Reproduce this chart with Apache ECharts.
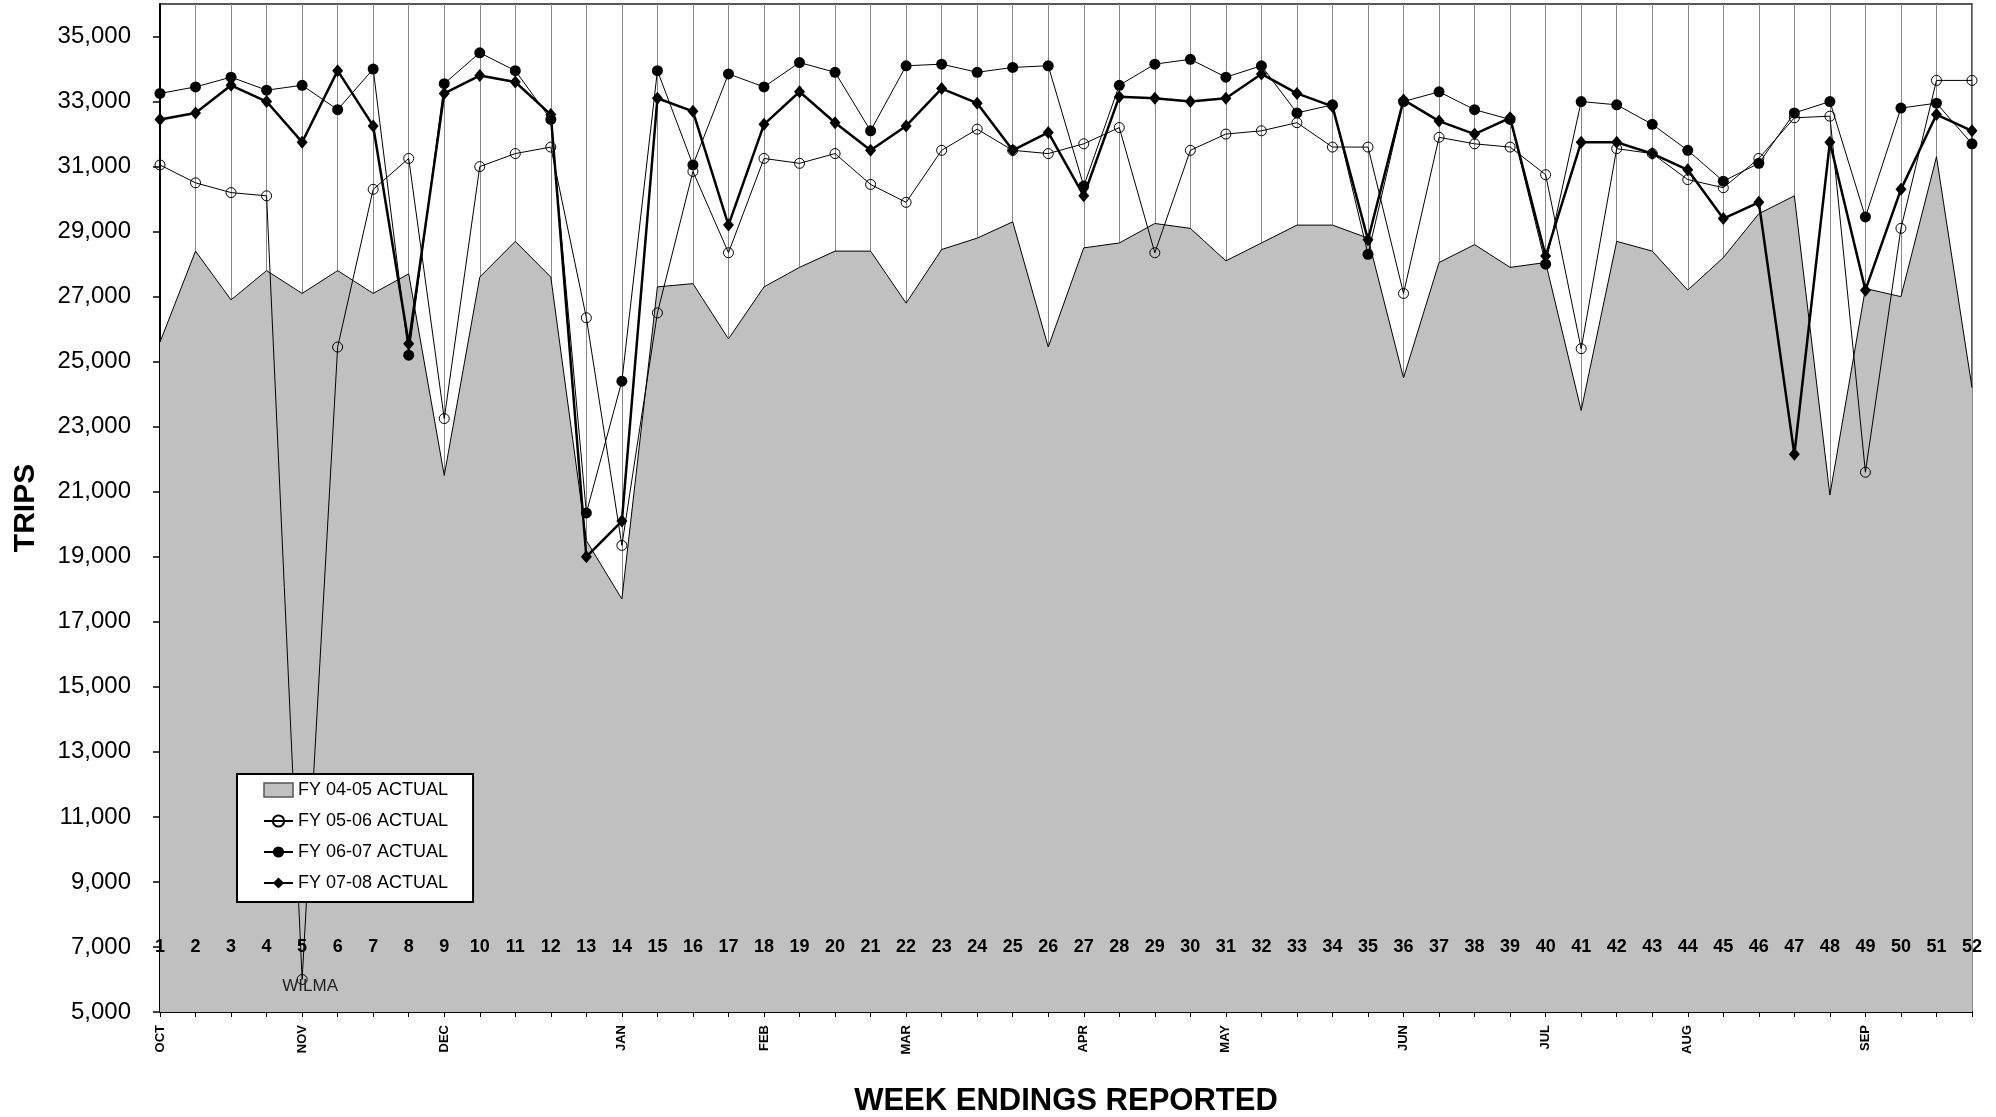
<!DOCTYPE html>
<html>
<head>
<meta charset="utf-8">
<style>
  html, body { margin: 0; padding: 0; background: #fff; }
  #chart { width: 1996px; height: 1117px; }
</style>
<script src="https://cdn.jsdelivr.net/npm/echarts@6/dist/echarts.min.js"></script>
</head>
<body>
<div id="chart"></div>
<script>
const weeks = ['1','2','3','4','5','6','7','8','9','10','11','12','13','14','15','16','17','18','19','20','21','22','23','24','25','26','27','28','29','30','31','32','33','34','35','36','37','38','39','40','41','42','43','44','45','46','47','48','49','50','51','52'];
const monthNames = ['OCT','NOV','DEC','JAN','FEB','MAR','APR','MAY','JUN','JUL','AUG','SEP'];
const monthWeeks = ['1','5','9','14','18','22','27','31','36','40','44','49'];
const yTicks = [5000,7000,9000,11000,13000,15000,17000,19000,21000,23000,25000,27000,29000,31000,33000,35000];

const fy0405 = [25600,28400,26900,27800,27100,27800,27100,27700,21500,27600,28700,27600,19500,17700,27300,27400,25700,27300,27900,28400,28400,26800,28450,28800,29300,25450,28500,28650,29250,29100,28100,28650,29200,29200,28800,24500,28050,28600,27900,28050,23500,28700,28400,27200,28200,29550,30100,20900,27250,27000,31300,24200];
const fy0506 = [31050,30500,30200,30100,6000,25450,30300,31250,23250,31000,31400,31600,26350,19350,26500,30850,28350,31250,31100,31400,30450,29900,31500,32150,31500,31400,31700,32200,28350,31500,32000,32100,32350,31600,31600,27100,31900,31700,31600,30750,25400,31550,31400,30600,30350,31250,32500,32550,21600,29100,33650,33650];
const fy0607 = [33250,33450,33750,33350,33500,32750,34000,25200,33550,34500,33950,32450,20350,24400,33950,31050,33850,33450,34200,33900,32100,34100,34150,33900,34050,34100,30400,33500,34150,34300,33750,34100,32650,32900,28300,33000,33300,32750,32450,28000,33000,32900,32300,31500,30550,31100,32650,33000,29450,32800,32950,31700];
const fy0708 = [32450,32650,33500,33000,31750,33950,32250,25550,33250,33800,33600,32600,19000,20100,33100,32700,29200,32300,33300,32350,31500,32250,33400,32950,31500,32050,30100,33150,33100,33000,33100,33850,33250,32850,28750,33050,32400,32000,32500,28250,31750,31750,31400,30900,29400,29900,22150,31750,27200,30300,32600,32100];

const seriesNames = ['FY 04-05 ACTUAL','FY 05-06 ACTUAL','FY 06-07 ACTUAL','FY 07-08 ACTUAL'];
const annotation = { week: '5', text: 'WILMA' };

const FONT = "'Liberation Sans', Arial, sans-serif";

const fy0506Data = fy0506.map((v, i) => weeks[i] === annotation.week ? {
  value: v,
  label: { show: true, formatter: annotation.text, position: 'inside', offset: [8, 7], fontSize: 17, color: '#222', fontFamily: FONT }
} : v);

const chart = echarts.init(document.getElementById('chart'), null, { renderer: 'canvas' });
chart.setOption({
  animation: false,
  backgroundColor: '#fff',
  textStyle: { fontFamily: FONT, color: '#000' },
  grid: {
    left: 160, right: 24, top: 4, bottom: 105,
    show: true, borderColor: '#222', borderWidth: 1.5, backgroundColor: 'transparent',
    containLabel: false, outerBoundsMode: 'none'
  },
  legend: {
    orient: 'vertical',
    left: 237, top: 774,
    padding: [7, 25, 10, 26],
    itemWidth: 29, itemHeight: 14, itemGap: 13,
    backgroundColor: '#fff', borderColor: '#000', borderWidth: 2,
    textStyle: { fontSize: 18, color: '#000', fontFamily: FONT },
    data: [
      { name: seriesNames[0], icon: 'rect', itemStyle: { color: '#c0c0c0', borderColor: '#555', borderWidth: 1.5 } },
      { name: seriesNames[1] },
      { name: seriesNames[2] },
      { name: seriesNames[3] }
    ]
  },
  xAxis: [
    {
      type: 'category', data: weeks, boundaryGap: false,
      name: 'WEEK ENDINGS REPORTED', nameLocation: 'middle', nameGap: 74,
      nameTextStyle: { fontSize: 31, fontWeight: 'bold', color: '#000', fontFamily: FONT },
      axisLine: { show: true, lineStyle: { color: '#000', width: 2 } },
      axisTick: { show: true, interval: 0, length: 5, alignWithLabel: true, lineStyle: { color: '#000', width: 1 } },
      axisLabel: {
        interval: 0, rotate: 90, margin: 13, fontSize: 13, fontWeight: 'bold', color: '#000', fontFamily: FONT,
        formatter: (v) => { const k = monthWeeks.indexOf(v); return k >= 0 ? monthNames[k] : ''; }
      },
      splitLine: { show: true, interval: 0, lineStyle: { color: '#888', width: 1 } }
    },
    {
      type: 'category', data: weeks, boundaryGap: false, position: 'bottom', offset: -65, z: 10,
      axisLine: { show: false }, axisTick: { show: false }, splitLine: { show: false },
      axisLabel: { interval: 0, margin: 0, verticalAlign: 'middle', fontSize: 18, fontWeight: 'bold', color: '#000', fontFamily: FONT }
    }
  ],
  yAxis: {
    type: 'value', min: 5000, max: 36000,
    name: 'TRIPS', nameLocation: 'middle', nameGap: 119,
    nameTextStyle: { fontSize: 30, fontWeight: 'bold', color: '#000', fontFamily: FONT },
    axisLine: { show: true, lineStyle: { color: '#000', width: 2 } },
    axisTick: { show: true, length: 7, customValues: yTicks, lineStyle: { color: '#000', width: 1.5 } },
    axisLabel: {
      customValues: yTicks, margin: 29, fontSize: 24, color: '#000', fontFamily: FONT,
      formatter: (v) => Number(v).toLocaleString('en-US')
    },
    splitLine: { show: false }
  },
  series: [
    {
      name: seriesNames[0], type: 'line', data: fy0405, symbol: 'none',
      lineStyle: { color: '#000', width: 1 },
      itemStyle: { color: '#c0c0c0', borderColor: '#555' },
      areaStyle: { color: '#c0c0c0', opacity: 1 },
      z: 1
    },
    {
      name: seriesNames[1], type: 'line', data: fy0506Data, symbol: 'circle', symbolSize: 10,
      lineStyle: { color: '#000', width: 1 },
      itemStyle: { color: 'rgba(0,0,0,0)', borderColor: '#000', borderWidth: 1 },
      z: 3
    },
    {
      name: seriesNames[2], type: 'line', data: fy0607, symbol: 'circle', symbolSize: 11,
      lineStyle: { color: '#000', width: 1 },
      itemStyle: { color: '#000' },
      z: 4
    },
    {
      name: seriesNames[3], type: 'line', data: fy0708, symbol: 'diamond', symbolSize: [11, 13],
      lineStyle: { color: '#000', width: 2.5 },
      itemStyle: { color: '#000' },
      z: 5
    }
  ]
});
</script>
</body>
</html>
